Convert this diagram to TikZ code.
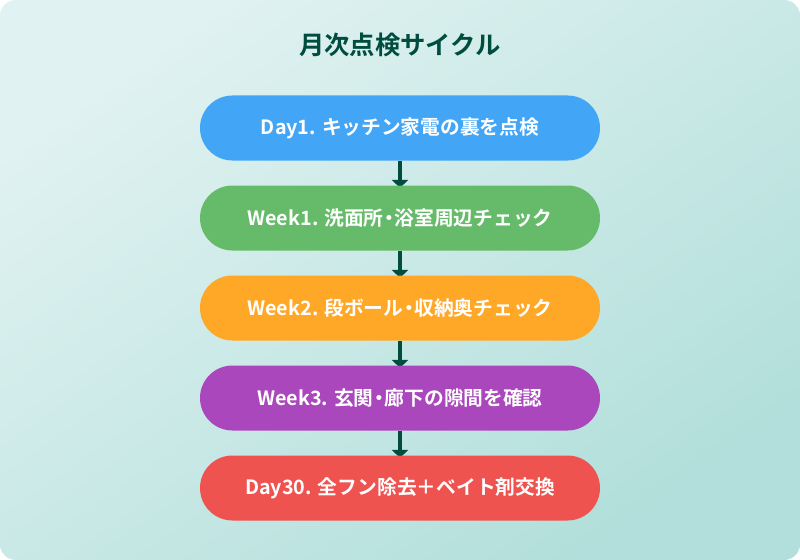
\documentclass[tikz,border=0pt]{standalone}
\usepackage{fontspec}
\newfontfamily\jpb{Noto Sans CJK JP Bold}
\usetikzlibrary{arrows.meta,shapes.misc}
\definecolor{bgA}{HTML}{E0F2F1}
\definecolor{bgB}{HTML}{B2DFDB}
\definecolor{ink}{HTML}{004D40}
\definecolor{cBlue}{HTML}{42A5F5}
\definecolor{cGreen}{HTML}{66BB6A}
\definecolor{cOrange}{HTML}{FFA726}
\definecolor{cPurple}{HTML}{AB47BC}
\definecolor{cRed}{HTML}{EF5350}
\pgfdeclarelayer{bg}\pgfdeclarelayer{mid}
\pgfsetlayers{bg,mid,main}
\newcommand{\mdot}{\hspace{-0.22em}・\hspace{-0.22em}}
\tikzset{
  pill/.style={rounded rectangle, minimum width=300pt, minimum height=48.75pt,
    inner sep=0pt, text=white, font=\jpb\fontsize{14.8}{17}\selectfont},
  conn/.style={draw=ink, line width=2.5pt, -{Triangle[width=12pt,length=6pt]}, shorten >=-2pt},
}
\begin{document}
\begin{tikzpicture}[x=0.75pt,y=-0.75pt]
\begin{pgfonlayer}{bg}
\shade[left color=bgA, right color=bgB, shading angle=35, rounded corners=12pt]
  (0,0) rectangle (800,560);
\end{pgfonlayer}
\useasboundingbox (0,0) rectangle (800,560);
\node[text=ink, font=\jpb\fontsize{19}{22}\selectfont] (title) at (400,45) {月次点検サイクル};
\node[pill, fill=cBlue] (p1) at (400,128) {Day1. キッチン家電の裏を点検};
\node[pill, fill=cGreen] (p2) at (400,218) {Week1. 洗面所\mdot 浴室周辺チェック};
\node[pill, fill=cOrange] (p3) at (400,308) {Week2. 段ボール\mdot 収納奥チェック};
\node[pill, fill=cPurple] (p4) at (400,398) {Week3. 玄関\mdot 廊下の隙間を確認};
\node[pill, fill=cRed] (p5) at (400,488) {Day30. 全フン除去＋ベイト剤交換};
\begin{pgfonlayer}{mid}
\draw[conn] (p1.south) -- (p2.north);
\draw[conn] (p2.south) -- (p3.north);
\draw[conn] (p3.south) -- (p4.north);
\draw[conn] (p4.south) -- (p5.north);
\end{pgfonlayer}
\end{tikzpicture}
\end{document}
